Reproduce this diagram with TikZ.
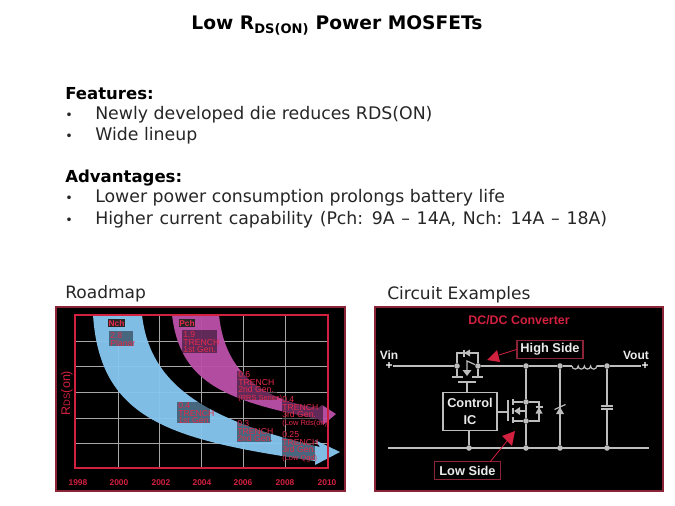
\documentclass[tikz,border=0pt]{standalone}
\usepackage{fontspec}
\setmainfont{DejaVu Sans}
\newfontfamily\arf{Liberation Sans}
\usetikzlibrary{calc}
\definecolor{crim}{HTML}{D2203F}
\definecolor{ratered}{HTML}{E62A4C}
\definecolor{deepred}{HTML}{8A2436}
\definecolor{skyb}{HTML}{86C5EE}
\definecolor{pinkb}{HTML}{BA50A8}
\definecolor{wire}{HTML}{BDBDBD}
\tikzset{
  bodytxt/.style={anchor=base west,inner sep=0pt,font=\fontsize{13pt}{15pt}\selectfont,text=black!85},
  bullettxt/.style={anchor=base west,inner sep=0pt,font=\fontsize{9.5pt}{15pt}\selectfont,text=black!85},
  headtxt/.style={anchor=base west,inner sep=0pt,font=\fontsize{12.4pt}{15pt}\selectfont\bfseries},
  captxt/.style={anchor=base west,inner sep=0pt,font=\fontsize{12.8pt}{15pt}\selectfont,text=black!85},
  yearlab/.style={inner sep=0pt,text=crim,font=\arf\bfseries\fontsize{6.3pt}{7pt}\selectfont},
  ratetxt/.style={anchor=north west,inner sep=0pt,align=left,text=ratered,font=\arf\fontsize{6.5pt}{5.8pt}\selectfont},
  chtag/.style={inner sep=0pt,text=ratered,fill=black!85,minimum width=12.5pt,minimum height=6pt,font=\arf\bfseries\fontsize{6.3pt}{7pt}\selectfont},
  boxshade/.style={fill=black,fill opacity=.45},
  gridl/.style={draw=black!35,line width=.5pt},
  wirel/.style={draw=wire,line width=.9pt},
  dotn/.style={circle,fill=wire,inner sep=0pt,minimum size=4.2pt},
  whitet/.style={inner sep=0pt,text=white!92!black,font=\arf\bfseries\fontsize{9.6pt}{11pt}\selectfont},
  diodetri/.style={fill=wire,draw=none},
}
\begin{document}
\begin{tikzpicture}[x=0.75pt,y=-0.75pt]
\useasboundingbox (0,0) rectangle (675,506);
\fill[white] (0,0) rectangle (675,506);
% title and text
\node[inner sep=0pt,anchor=base,font=\fontsize{14pt}{16pt}\selectfont\bfseries] (title) at (337,30) {Low R\textsubscript{DS(ON)} Power MOSFETs};
\node[headtxt] (feat) at (65,100) {Features:};
\node[bullettxt] (b1) at (65,120) {•};
\node[bodytxt] (t1) at (95,120) {Newly developed die reduces RDS(ON)};
\node[bullettxt] (b2) at (65,141) {•};
\node[bodytxt] (t2) at (95,141) {Wide lineup};
\node[headtxt] (adv) at (65,183) {Advantages:};
\node[bullettxt] (b3) at (65,203) {•};
\node[bodytxt] (t3) at (95,203) {Lower power consumption prolongs battery life};
\node[bullettxt] (b4) at (65,224) {•};
\node[bodytxt] (t4) at (95,224) {\spaceskip=.385em Higher current capability (Pch: 9A – 14A, Nch: 14A – 18A)};
\node[captxt] (c1) at (65,298) {Roadmap};
\node[captxt] (c2) at (387,299) {Circuit Examples};
% ---------- roadmap panel
\fill[black] (56,307) rectangle (345,491);
\draw[deepred,line width=.8pt] (56,307) rectangle (345,491);
\foreach \gx in {118,159,201,243,285}{\draw[gridl] (\gx,315) -- (\gx,468);}
\foreach \gy in {341,366,392,418,443}{\draw[gridl] (75,\gy) -- (328,\gy);}
% blue band
\fill[skyb,fill opacity=.96] (93,315) .. controls (100,420) and (170,440) .. (315,461)
  -- (315,465) -- (340,452) -- (315,440) -- (320,447)
  .. controls (205,420) and (150,385) .. (142,315) -- cycle;
% pink band
\fill[pinkb,fill opacity=.96] (172,315) .. controls (180,380) and (220,400) .. (318,419)
  -- (323,425) -- (336,414) -- (322,405) -- (318,408)
  .. controls (265,400) and (225,375) .. (219,315) -- cycle;
\draw[crim,line width=1.2pt] (75,315) rectangle (328,468);
% year labels
\foreach \yr/\yx in {1998/78,2000/119,2002/161,2004/202,2006/243,2008/285,2010/327}{\node[yearlab] (y\yr) at (\yx,483) {\yr};}
\node[rotate=90,inner sep=0pt,text=crim,font=\arf\fontsize{9.4pt}{10pt}\selectfont] (rds) at (67,393) {R{\fontsize{7pt}{8pt}\selectfont DS}(on)};
% rate boxes
\fill[boxshade] (109,331) rectangle (133,346);
\fill[boxshade] (182,330) rectangle (217,353);
\fill[boxshade] (237,371) rectangle (277,400);
\fill[boxshade] (282,397) rectangle (323,425);
\fill[boxshade] (282,432) rectangle (315,460);
\fill[boxshade] (237,421) rectangle (271,442);
\fill[boxshade] (177,402) rectangle (210,423);
\node[chtag] (nch) at (116.5,323) {Nch};
\node[chtag] (pch) at (187,323) {Pch};
\node[ratetxt] (r0) at (110,332) {2.8\\Planar};
\node[ratetxt] (r1) at (183,331) {1.9\\TRENCH\\1st Gen.};
\node[ratetxt] (r2) at (238,371) {0.6\\TRENCH\\2nd Gen.\\{\fontsize{5.6pt}{5.8pt}\selectfont (RRS Series)}};
\node[ratetxt] (r3) at (282,396) {0.4\\TRENCH\\3rd Gen.\\{\fontsize{5.6pt}{5.8pt}\selectfont (Low Rds(on))}};
\node[ratetxt] (r4) at (282,431) {0.25\\TRENCH\\3rd Gen.\\{\fontsize{5.6pt}{5.8pt}\selectfont (Low Qgd)}};
\node[ratetxt] (r5) at (237,420) {0.3\\TRENCH\\2nd Gen.};
\node[ratetxt] (r6) at (178,402) {0.4\\TRENCH\\1st Gen.};
% ---------- circuit panel
\fill[black] (375,307) rectangle (663,491);
\draw[deepred,line width=.8pt] (375,307) rectangle (663,491);
\node[inner sep=0pt,text=crim,font=\arf\bfseries\fontsize{9.3pt}{11pt}\selectfont] (dcdc) at (519,320) {DC/DC Converter};
\node[whitet,font=\arf\bfseries\fontsize{9pt}{11pt}\selectfont] (vin) at (389,355) {Vin};
\node[whitet,font=\arf\bfseries\fontsize{9pt}{11pt}\selectfont] (vout) at (636,355) {Vout};
\node[inner sep=0pt,text=white,font=\arf\bfseries\fontsize{9pt}{9pt}\selectfont] (vinp) at (389,366) {+};
\node[inner sep=0pt,text=white,font=\arf\bfseries\fontsize{9pt}{9pt}\selectfont] (voutp) at (645,366) {+};
% junctions
\node[dotn] (hs) at (457,366) {};
\node[dotn] (hd) at (478,366) {};
\node[dotn] (j1) at (526,366) {};
\node[dotn] (j2) at (560,366) {};
\node[dotn] (j3) at (607,366) {};
\node[dotn] (ld) at (526,402) {};
\node[dotn] (ls) at (526,421) {};
\node[dotn] (k0) at (469,448) {};
\node[dotn] (k1) at (526,448) {};
\node[dotn] (k2) at (560,448) {};
\node[dotn] (k3) at (607,448) {};
\coordinate (indL) at (572,366);
\coordinate (indR) at (597,366);
\coordinate (railL) at (388,448);
\coordinate (railR) at (649,448);
% rails
\draw[wirel] (vinp.east) -- (hs);
\draw[wirel] (hd) -- (j1) -- (j2) -- (indL);
\draw[wirel] (indL) arc[start angle=180,end angle=0,radius=3.1]
  arc[start angle=180,end angle=0,radius=3.1]
  arc[start angle=180,end angle=0,radius=3.1]
  arc[start angle=180,end angle=0,radius=3.1] -- (indR);
\draw[wirel] (indR) -- (j3) -- (voutp.west);
\draw[wirel] (railL) -- (railR);
% control IC
\node[draw=wire,line width=.9pt,fill=black,text=white!92!black,minimum width=40.5pt,minimum height=29pt,inner sep=0pt,align=center,font=\arf\bfseries\fontsize{9.6pt}{12.5pt}\selectfont] (ic) at (470,411.5) {Control\\IC};
\draw[wirel] (k0) -- (k0|-ic.south);
% high side FET
\coordinate (hdiode) at (467,353);
\draw[wirel] (hs) -- (hs|-hdiode) -- (hd|-hdiode) -- (hd);
\fill[diodetri] (464,353) -- (470,349.5) -- (470,356.5) -- cycle;
\draw[wire,line width=.9pt] (464,349.5) -- (464,356.5);
\coordinate (hbody) at (467,372);
\draw[wirel] (hd) -- (467,361) -- (hbody);
\fill[diodetri] (467,376) -- (462.5,370) -- (471.5,370) -- cycle;
\draw[wirel] (hs) -- (457,377);
\draw[wirel] (hd) -- (478,377);
\draw[wirel] (452,377) -- (463,377) (472,377) -- (483,377);
\coordinate (hgate) at (467,382);
\draw[wirel] (458,382) -- (476,382);
\draw[wirel] (hgate) -- (hgate|-ic.north);
% low side FET
\coordinate (lgate) at (508,412);
\draw[wirel] (ic.east|-lgate) -- (lgate);
\draw[wirel] (508,400) -- (508,421);
\draw[wirel] (513,399) -- (513,405) (513,408) -- (513,414) (513,417) -- (513,423);
\draw[wirel] (513,402) -- (ld);
\draw[wirel] (513,421) -- (ls);
\draw[wirel] (515,411) -- (526,411) -- (ls);
\fill[diodetri] (514,411) -- (520,407) -- (520,415) -- cycle;
\draw[wirel] (j1) -- (ld) -- (ls) -- (k1);
\draw[wirel] (ld) -- (539,402) -- (539,421) -- (ls);
\fill[diodetri] (539,407) -- (535.5,413.5) -- (542.5,413.5) -- cycle;
\draw[wire,line width=.9pt] (535.5,407) -- (542.5,407);
% zener
\draw[wirel] (j2) -- (k2);
\fill[diodetri] (560,407) -- (556,414) -- (564,414) -- cycle;
\draw[wire,line width=.9pt] (554.5,409.5) -- (565.5,404.5);
% cap
\coordinate (capT) at (607,406);
\coordinate (capB) at (607,409);
\draw[wirel] (j3) -- (capT) (capB) -- (k3);
\draw[wire,line width=.9pt] (601,406) -- (613,406) (601,409) -- (613,409);
% callouts
\node[whitet,draw=deepred,line width=.8pt,minimum width=49.5pt,minimum height=14pt] (hsb) at (550,349.5) {High Side};
\coordinate (hsa) at (499,355);
\draw[crim,line width=.6pt] (hsb.west) -- (hsa);
\fill[crim] (487,360) -- (497,350) -- (500,362) -- cycle;
\node[whitet,draw=deepred,line width=.8pt,minimum width=50pt,minimum height=13pt] (lsb) at (467.5,470.5) {Low Side};
\coordinate (lsa) at (507,441);
\coordinate (lsb0) at (490,462);
\draw[crim,line width=.6pt] (lsb0) -- (lsa);
\fill[crim] (515,431) -- (502,436) -- (512,446) -- cycle;
\end{tikzpicture}
\end{document}
